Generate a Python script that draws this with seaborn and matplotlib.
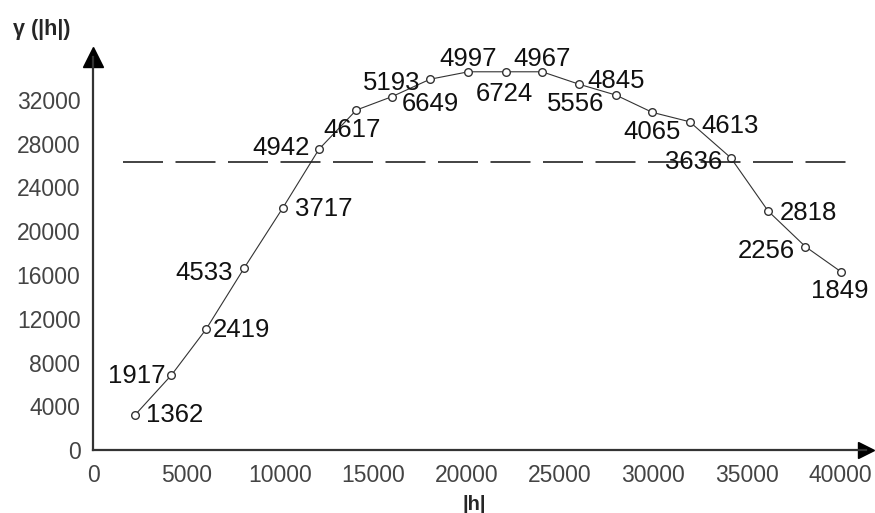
import numpy as np
import pandas as pd
import seaborn as sns
import matplotlib.pyplot as plt

# experimental semivariogram: lag distance, semivariance, number of pairs
lags = [2250, 4200, 6050, 8100, 10150, 12100, 14100, 16000, 18050, 20100,
        22100, 24050, 26050, 28000, 29950, 31950, 34150, 36150, 38150, 40050]
gamma = [3200, 6850, 11030, 16650, 22100, 27500, 31080, 32300, 33900, 34580,
         34580, 34580, 33430, 32450, 30870, 30010, 26720, 21850, 18590, 16300]
pairs = [1362, 1917, 2419, 4533, 3717, 4942, 4617, 6649, 5193, 4997,
         6724, 4967, 5556, 4845, 4065, 4613, 3636, 2818, 2256, 1849]
sill = 26330

# label placement: (ha, dx, dy) in pixels from the point
label_pos = [('left', 11, -7.5), ('right', -6, -7.5), ('left', 7, -8), ('right', -11, -12),
             ('left', 12, -8), ('right', -9, -5.5), ('center', -4, -26.5), ('left', 10, -14.5),
             ('right', -10, -10.5), ('center', 0, 5.5), ('center', -1, -29.5), ('center', 0, 5.5),
             ('center', -4, -27), ('center', 0, 7.5), ('center', 0, -27), ('left', 12, -11),
             ('right', -9, -11), ('left', 12, -8.5), ('right', -11, -11), ('center', -1, -26)]

df = pd.DataFrame({'lag': lags, 'gamma': gamma})

sns.set_style('white')
plt.rcParams['font.family'] = ['Liberation Sans', 'DejaVu Sans']

W, H = 875, 513
fig = plt.figure(figsize=(W / 100, H / 100), dpi=100)
x0, y0 = 93, 450
x1, y1 = 866, 57
ax = fig.add_axes([x0 / W, (H - y0) / H, (x1 - x0) / W, (y0 - y1) / H])

px_x = 747 / 40000
px_y = 350 / 32000
ax.set_xlim(0, (x1 - x0) / px_x)
ax.set_ylim(0, (y0 - y1) / px_y)

sns.lineplot(data=df, x='lag', y='gamma', ax=ax, color='#333333', linewidth=0.8,
             marker='o', markersize=5.5, markerfacecolor='white',
             markeredgecolor='#333333', markeredgewidth=1.0)

ax.plot([(123 - x0) / px_x, (858 - x0) / px_x], [sill, sill], color='#222222',
        linewidth=1.2, dashes=(24, 7.5))

for xv, yv, n, (ha, dx, dy) in zip(lags, gamma, pairs, label_pos):
    ax.annotate(str(n), (xv, yv), xytext=(dx, dy), textcoords='offset pixels',
                ha=ha, va='baseline', fontsize=18.5, color='#111111')

for s in ['top', 'right']:
    ax.spines[s].set_visible(False)
for s in ['left', 'bottom']:
    ax.spines[s].set_color('#333333')
    ax.spines[s].set_linewidth(1.6)

# arrow heads on the axes
ax.plot(0, 1, marker='^', color='black', markersize=14, transform=ax.transAxes, clip_on=False)
ax.plot(1, 0, marker='>', color='black', markersize=12, transform=ax.transAxes, clip_on=False)

ax.set_xticks(np.arange(0, 40001, 5000))
ax.set_yticks(np.arange(0, 32001, 4000))
ax.tick_params(direction='in', length=8, width=1.6, color='#333333',
               labelsize=16.5, labelcolor='#444444')
ax.tick_params(axis='y', pad=9)
ax.tick_params(axis='x', pad=10)
ax.set_xlabel('')
ax.set_ylabel('')

fig.text(13 / W, 1 - 30 / H, 'γ (|h|)', fontsize=15.5, fontweight='bold', va='center', ha='left')
fig.text(474 / W, 1 - 504 / H, '|h|', fontsize=14.5, fontweight='bold', va='center', ha='center')

fig.savefig('out.png', dpi=100)
